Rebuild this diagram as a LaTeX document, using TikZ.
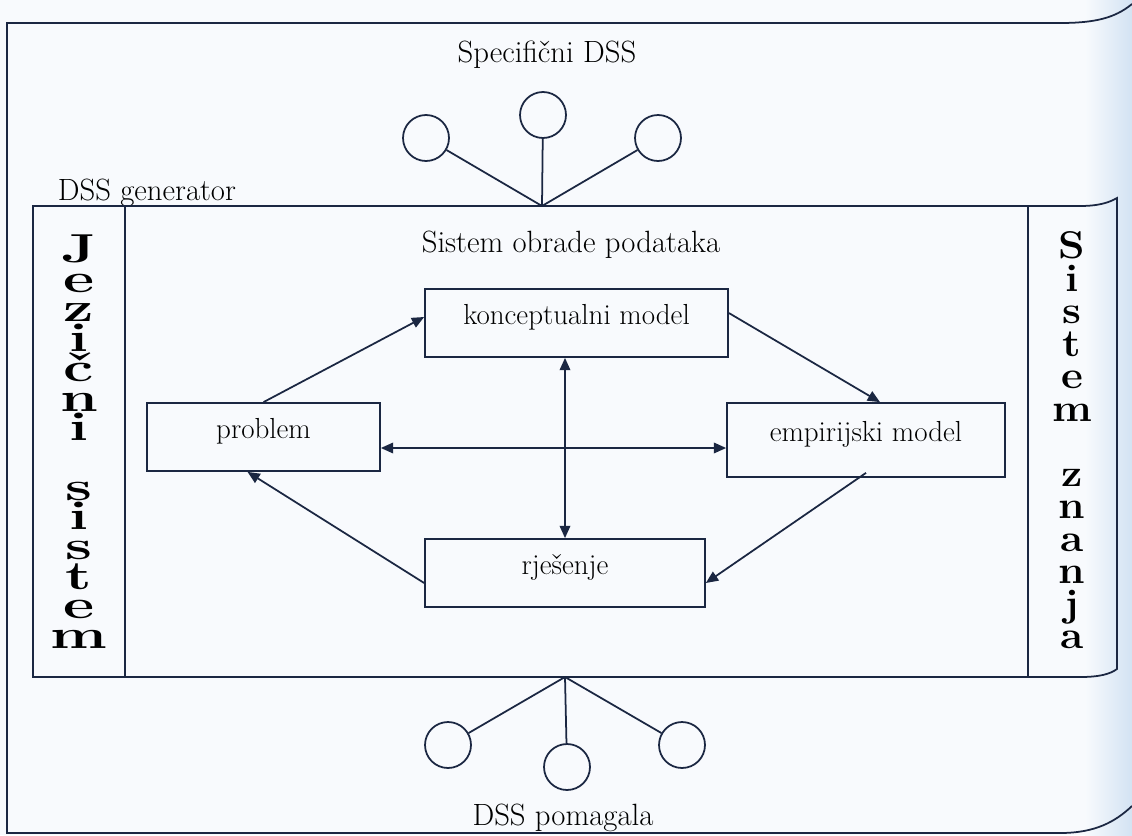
\documentclass[tikz,border=0pt]{standalone}
\usetikzlibrary{arrows.meta}
\definecolor{ink}{HTML}{1B2742}
\definecolor{paper}{HTML}{F8FAFD}
\definecolor{curl}{HTML}{D3E3F3}
\newcommand{\ltrL}[1]{\hbox to 50pt{\hss\scalebox{1.5}[1]{#1}\hss}}
\newcommand{\ltrR}[1]{\hbox to 40pt{\hss\scalebox{1.1}[1]{#1}\hss}}
\begin{document}
\begin{tikzpicture}[x=0.02cm,y=-0.02cm,line width=1pt,
    box/.style={draw=ink,line width=1pt,inner sep=0pt,text depth=10pt,
      font=\fontsize{16.5}{19}\selectfont},
    lbl/.style={font=\fontsize{17.5}{20}\selectfont,inner sep=0pt},
    conn/.style={draw=ink,line width=1pt,-{Triangle[length=7pt,width=6pt]}},
    both/.style={draw=ink,line width=1pt,
      {Triangle[length=7pt,width=6pt]}-{Triangle[length=7pt,width=6pt]}},
    leaf/.style={draw=ink,line width=1pt,circle,minimum size=0.92cm,inner sep=0pt},
    bigl/.style={anchor=north,inner sep=0pt,font=\bfseries\fontsize{23}{16.9}\selectfont},
    bigr/.style={anchor=north,inner sep=0pt,font=\bfseries\fontsize{22}{18.5}\selectfont}]
  \useasboundingbox (0,0) rectangle (1132,835);
  % paper
  \fill[paper] (0,0) rectangle (1132,835);
  \shade[left color=paper,right color=curl] (1085,0) rectangle (1132,835);

  % outer frame
  \draw[ink] (1132,4) .. controls (1115,18) and (1095,23) .. (1060,23) -- (7,23)
    -- (7,833) -- (1060,833) .. controls (1095,833) and (1115,822) .. (1132,806);

  % DSS generator
  \node[lbl,anchor=base west] (gen) at (57,200) {DSS generator};
  \draw[ink] (33,206) -- (1080,206) .. controls (1100,206) and (1110,202) .. (1117,198)
    -- (1117,669) .. controls (1110,674) and (1100,677) .. (1080,677) -- (33,677) -- cycle;
  \draw[ink] (125,206) -- (125,677);
  \draw[ink] (1028,206) -- (1028,677);

  % side columns
  \node[bigl] (jezik) at (79,234) {\vbox{\baselineskip=16.9pt\lineskiplimit=-100pt\relax
    \ltrL{J}\ltrL{e}\ltrL{z}\ltrL{i}\ltrL{č}\ltrL{n}\ltrL{i}\vskip16.9pt
    \ltrL{s}\ltrL{i}\ltrL{s}\ltrL{t}\ltrL{e}\ltrL{m}}};
  \node[bigr] (znanje) at (1072,231) {\vbox{\baselineskip=18.5pt\lineskiplimit=-100pt\relax
    \ltrR{S}\ltrR{i}\ltrR{s}\ltrR{t}\ltrR{e}\ltrR{m}\vskip18.5pt
    \ltrR{z}\ltrR{n}\ltrR{a}\ltrR{n}\ltrR{j}\ltrR{a}}};

  % labels
  \node[lbl] (spec) at (547,55) {Specifični DSS};
  \node[lbl] (obr) at (571,245) {Sistem obrade podataka};
  \node[lbl] (pom) at (563,818) {DSS pomagala};

  % models
  \node[box,minimum width=6.06cm,minimum height=1.36cm] (konc) at (576.5,323) {konceptualni model};
  \node[box,minimum width=4.66cm,minimum height=1.36cm] (prob) at (263.5,437) {problem};
  \node[box,minimum width=5.56cm,minimum height=1.48cm] (emp) at (866,440) {empirijski model};
  \node[box,minimum width=5.6cm,minimum height=1.36cm] (rje) at (565,573) {rješenje};

  \draw[conn] (prob.north) -- ([yshift=0.12cm]konc.west);
  \draw[conn] ([yshift=0.2cm]konc.east) -- ([xshift=0.28cm]emp.north);
  \draw[conn] ([yshift=0.1cm]emp.south) -- ([yshift=-0.2cm]rje.east);
  \draw[conn] ([yshift=-0.2cm]rje.west) -- ([xshift=-0.32cm]prob.south);
  \draw[both] ([yshift=-0.22cm]prob.east) -- ([yshift=-0.22cm]prob.east -| emp.west);
  \draw[both] (konc.south -| rje.north) -- (rje.north);

  % Specificni DSS
  \coordinate (jtop) at (542,206);
  \node[leaf] (sd1) at (426,138) {};
  \node[leaf] (sd2) at (543,115) {};
  \node[leaf] (sd3) at (658,138) {};
  \draw[ink] (jtop) -- (sd1);
  \draw[ink] (jtop) -- (sd2);
  \draw[ink] (jtop) -- (sd3);

  % DSS pomagala
  \coordinate (jbot) at (565,677);
  \node[leaf] (pm1) at (448,745) {};
  \node[leaf] (pm2) at (567,767) {};
  \node[leaf] (pm3) at (682,745) {};
  \draw[ink] (jbot) -- (pm1);
  \draw[ink] (jbot) -- (pm2);
  \draw[ink] (jbot) -- (pm3);
\end{tikzpicture}
\end{document}
